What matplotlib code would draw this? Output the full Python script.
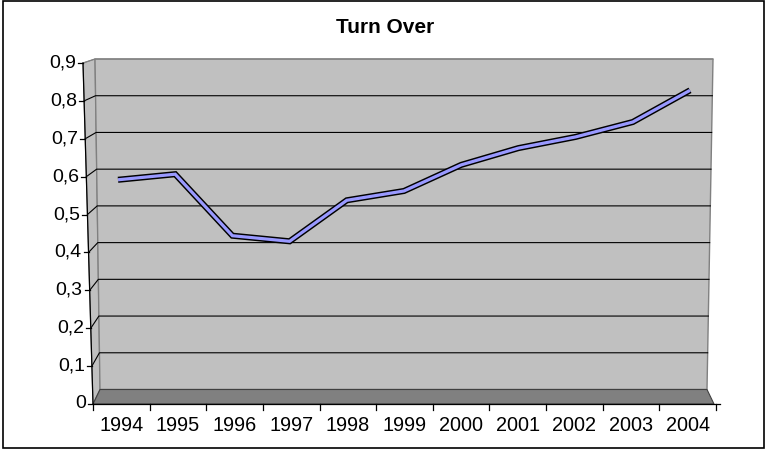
import matplotlib

matplotlib.use("Agg")
import matplotlib.pyplot as plt
from matplotlib.patches import Polygon, Rectangle

plt.rcParams["font.family"] = ["Liberation Sans", "DejaVu Sans"]

# Turn over per year
years = ["1994", "1995", "1996", "1997", "1998", "1999",
         "2000", "2001", "2002", "2003", "2004"]
turnover = [0.58, 0.595, 0.43, 0.415, 0.525, 0.55,
            0.62, 0.665, 0.695, 0.735, 0.82]

y_ticks = [0.0, 0.1, 0.2, 0.3, 0.4, 0.5, 0.6, 0.7, 0.8, 0.9]
y_tick_labels = ["0", "0,1", "0,2", "0,3", "0,4", "0,5",
                 "0,6", "0,7", "0,8", "0,9"]
y_max = 0.9

W, H = 767, 450
fig = plt.figure(figsize=(W / 100, H / 100), dpi=100)

# full-figure canvas in pixel units for the 3-D box (walls, floor, axes)
bg = fig.add_axes([0, 0, 1, 1])
bg.set_xlim(0, W)
bg.set_ylim(H, 0)
bg.axis("off")

WALL = "#c0c0c0"
FLOOR = "#808080"
EDGE = "#808080"


def front_x(v):
    return 93 - 10 * v / y_max


def front_y(v):
    return 404 - 341 * v / y_max


def back_y(v):
    return 389.5 - 330.5 * v / y_max


def back_left(v):
    return 100 - 5 * v / y_max


def back_right(v):
    return 707 + 6 * v / y_max


# side wall
bg.add_patch(Polygon([(front_x(0), front_y(0)), (front_x(y_max), front_y(y_max)),
                      (back_left(y_max), back_y(y_max)), (back_left(0), back_y(0))],
                     closed=True, facecolor=WALL, edgecolor=EDGE, lw=0.8, zorder=1))
# back wall
bg.add_patch(Polygon([(back_left(0), back_y(0)), (back_right(0), back_y(0)),
                      (back_right(y_max), back_y(y_max)), (back_left(y_max), back_y(y_max))],
                     closed=True, facecolor=WALL, edgecolor=EDGE, lw=1.0, zorder=1))
# floor
bg.add_patch(Polygon([(front_x(0), 404), (714, 404),
                      (back_right(0), back_y(0)), (back_left(0), back_y(0))],
                     closed=True, facecolor=FLOOR, edgecolor="#404040", lw=0.8, zorder=2))

# gridlines run across the side wall and along the back wall
for v in y_ticks[1:]:
    color = "black" if v < y_max else EDGE
    bg.plot([front_x(v), back_left(v), back_right(v)],
            [front_y(v), back_y(v), back_y(v)],
            color=color, lw=0.8, zorder=2)

# value axis (slanted front edge)
bg.plot([front_x(0), front_x(y_max)], [front_y(0), front_y(y_max)],
        color="black", lw=0.9, zorder=3)
for v, lab in zip(y_ticks, y_tick_labels):
    bg.plot([front_x(v) - 5, front_x(v)], [front_y(v), front_y(v)],
            color="black", lw=0.9, zorder=3)
    bg.text(front_x(v) - 7, front_y(v), lab, ha="right", va="center",
            fontsize=14, zorder=3)

# category axis
step = (716 - 93) / len(years)
bg.plot([93, 720], [404, 404], color="black", lw=0.9, zorder=3)
for k in range(len(years) + 1):
    x = 93 + step * k
    bg.plot([x, x], [404, 410], color="black", lw=0.9, zorder=3)
for k, lab in enumerate(years):
    bg.text(93 + step * (k + 0.5), 425.5, lab, ha="center", va="center",
            fontsize=14.3, zorder=3)

bg.text(385, 27.5, "Turn Over", ha="center", va="center",
        fontsize=15, fontweight="bold")

# chart border
bg.add_patch(Rectangle((3, 1), 761, 447, fill=False, edgecolor="black", lw=1.2))

# data axes sitting midway between the back wall and the front edge
ax = fig.add_axes([89.4 / W, (H - 396) / H, 629.2 / W, 335.5 / H])
ax.set_xlim(-0.5, len(years) - 0.5)
ax.set_ylim(0, y_max)
ax.axis("off")
ax.patch.set_visible(False)

xs = range(len(years))
ax.plot(xs, turnover, color="black", lw=4.4,
        solid_joinstyle="miter", solid_capstyle="butt", zorder=4)
ax.plot(xs, turnover, color="#9999ff", lw=2.3,
        solid_joinstyle="miter", solid_capstyle="butt", zorder=5)

fig.savefig("out.png", dpi=100)
